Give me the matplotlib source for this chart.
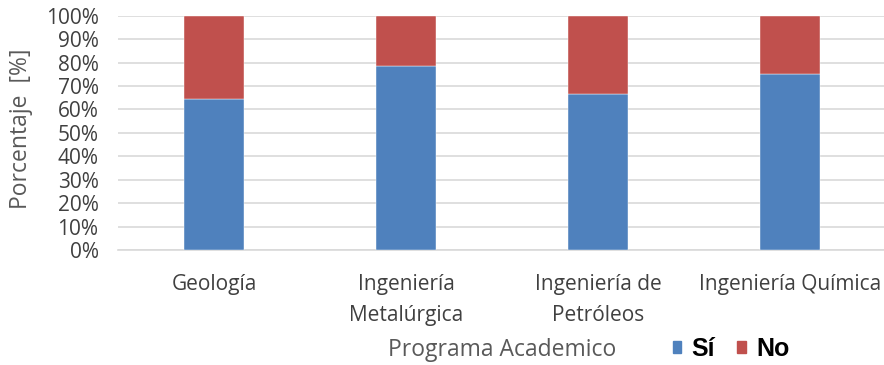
import matplotlib
matplotlib.use("Agg")
import matplotlib.pyplot as plt
import numpy as np
from matplotlib.ticker import PercentFormatter
from matplotlib.patches import Patch

categories = ["Geología", "Ingeniería\nMetalúrgica", "Ingeniería de\nPetróleos", "Ingeniería Química"]
si_values = [64.4, 78.5, 66.4, 75.0]
no_values = [100 - v for v in si_values]
series_names = ["Sí", "No"]
colors = ["#4F81BD", "#C0504D"]

plt.rcParams['font.family'] = ['Open Sans', 'DejaVu Sans']

fig = plt.figure(figsize=(8.84, 3.65), dpi=100)
ax = fig.add_axes([118/884, 1 - 250/365, (886-118)/884, (250-15.7)/365])

x = np.arange(len(categories))
w = 0.31
ax.bar(x, si_values, w, color=colors[0], edgecolor="white", linewidth=0.3, zorder=3)
ax.bar(x, no_values, w, bottom=si_values, color=colors[1], edgecolor="white", linewidth=0.3, zorder=3)

ax.set_xlim(-0.5, len(categories) - 0.5)
ax.set_ylim(0, 100)
ax.set_yticks(np.arange(0, 101, 10))
ax.yaxis.set_major_formatter(PercentFormatter(decimals=0))
ax.set_xticks(x)
ax.set_xticklabels(categories, fontsize=15, color="#404040", linespacing=1.62)
ax.tick_params(axis="y", length=0, pad=14, labelsize=15, labelcolor="#404040")
ax.tick_params(axis="x", length=0, pad=17)
ax.grid(axis="y", color="#d9d9d9", linewidth=1.2, zorder=0)
for s in ["top", "right", "left"]:
    ax.spines[s].set_visible(False)
ax.spines["bottom"].set_color("#d9d9d9")
ax.spines["bottom"].set_linewidth(1.2)

fig.text(21/884, 1 - 129/365, "Porcentaje  [%]", fontsize=16.5, color="#595959",
         ha="center", va="center", rotation=90)
fig.text(502/884, 1 - 350/365, "Programa Academico", fontsize=16.5, color="#595959",
         ha="center", va="center")

handles = [Patch(color=c) for c in colors]
leg = fig.legend(handles, series_names, loc="center", bbox_to_anchor=(731/884, 1 - 349/365),
                 ncol=2, frameon=False, handlelength=0.35, handleheight=0.35,
                 handletextpad=0.4, columnspacing=0.9, borderpad=0, borderaxespad=0,
                 prop={"family": "Liberation Sans", "weight": "bold", "size": 18})

fig.savefig("out.png", dpi=100)
